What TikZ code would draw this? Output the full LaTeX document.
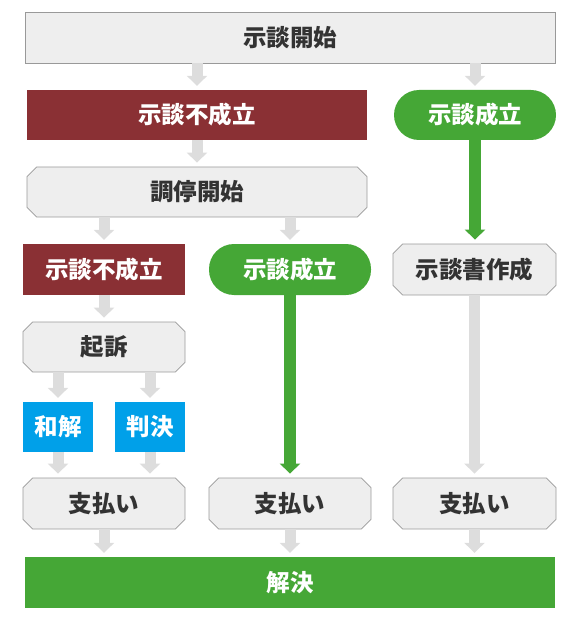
\documentclass[tikz,border=0pt]{standalone}
\usepackage{fontspec}
\setmainfont{Noto Sans CJK JP}
\usetikzlibrary{shapes.misc,arrows.meta,calc}
\definecolor{boxgray}{HTML}{EEEEEE}
\definecolor{boxline}{HTML}{999999}
\definecolor{txtdark}{HTML}{333333}
\definecolor{darkred}{HTML}{8A3034}
\definecolor{okgreen}{HTML}{45A736}
\definecolor{skyblue}{HTML}{00A0E9}
\definecolor{arrgray}{HTML}{DDDDDD}
\tikzset{
  base/.style={inner sep=0pt, font=\fontsize{23.5pt}{27pt}\selectfont\bfseries, minimum height=50pt},
  graybox/.style={base, rectangle, fill=boxgray, draw=boxline, line width=0.8pt, text=txtdark},
  chambox/.style={base, chamfered rectangle, chamfered rectangle xsep=6pt, fill=boxgray, draw=boxline, line width=0.8pt, text=txtdark},
  redbox/.style={base, rectangle, fill=darkred, text=white},
  pillbox/.style={base, rectangle, rounded corners=25pt, fill=okgreen, text=white},
  bluebox/.style={base, rectangle, fill=skyblue, text=white},
  endbox/.style={base, rectangle, fill=okgreen, text=white},
  garrow/.style={draw=arrgray, line width=11pt, -{Triangle[width=20pt,length=10pt]}},
  gnarrow/.style={draw=okgreen, line width=12pt, -{Triangle[width=20pt,length=10pt]}},
}
\begin{document}
\begin{tikzpicture}[x=1pt,y=-1pt]
\useasboundingbox (0,0) rectangle (580,620);
\node[graybox, minimum width=530pt, minimum height=51pt] (start) at (290,37.5) {示談開始};
\node[redbox, minimum width=340pt] (fail1) at (197,115) {示談不成立};
\node[pillbox, minimum width=162pt] (ok1) at (475,115) {示談成立};
\node[chambox, minimum width=340pt] (med) at (197,192) {調停開始};
\node[redbox, minimum width=162pt, minimum height=51pt] (fail2) at (104,269.5) {示談不成立};
\node[pillbox, minimum width=162pt, minimum height=51pt] (ok2) at (290,269.5) {示談成立};
\node[chambox, minimum width=163pt, minimum height=51pt] (doc) at (474.5,269.5) {示談書作成};
\node[chambox, minimum width=162pt] (suit) at (104,347) {起訴};
\node[bluebox, minimum width=70pt] (wakai) at (58,427) {和解};
\node[bluebox, minimum width=70pt] (hanketsu) at (150,427) {判決};
\node[chambox, minimum width=162pt, minimum height=51pt] (pay1) at (104,503.5) {支払い};
\node[chambox, minimum width=162pt, minimum height=51pt] (pay2) at (290,503.5) {支払い};
\node[chambox, minimum width=163pt, minimum height=51pt] (pay3) at (474.5,503.5) {支払い};
\node[endbox, minimum width=530pt, minimum height=51pt] (end) at (290,582.5) {解決};
% arrows
\draw[garrow] (start.south -| fail1.north) -- ($(fail1.north)+(0,-4)$);
\draw[garrow] (start.south -| ok1.north) -- ($(ok1.north)+(0,-4)$);
\draw[garrow] (fail1.south) -- ($(med.north)+(0,-4)$);
\draw[garrow] (med.south -| fail2.north) -- ($(fail2.north)+(0,-4)$);
\draw[garrow] (med.south -| ok2.north) -- ($(ok2.north)+(0,-4)$);
\draw[gnarrow] (ok1.south) -- ($(doc.north -| ok1.south)+(0,-4)$);
\draw[garrow] (fail2.south) -- ($(suit.north)+(0,-4)$);
\draw[garrow] (suit.south -| wakai.north) -- ($(wakai.north)+(0,-4)$);
\draw[garrow] (suit.south -| hanketsu.north) -- ($(hanketsu.north)+(0,-4)$);
\draw[garrow] (wakai.south) -- ($(wakai.south |- pay1.north)+(0,-4)$);
\draw[garrow] (hanketsu.south) -- ($(hanketsu.south |- pay1.north)+(0,-4)$);
\draw[gnarrow] (ok2.south) -- ($(ok2.south |- pay2.north)+(0,-4)$);
\draw[garrow] (doc.south) -- ($(pay3.north)+(0,-4)$);
\draw[garrow] (pay1.south) -- ($(pay1.south |- end.north)+(0,-4)$);
\draw[garrow] (pay2.south) -- ($(pay2.south |- end.north)+(0,-4)$);
\draw[garrow] (pay3.south) -- ($(pay3.south |- end.north)+(0,-4)$);
\end{tikzpicture}
\end{document}
